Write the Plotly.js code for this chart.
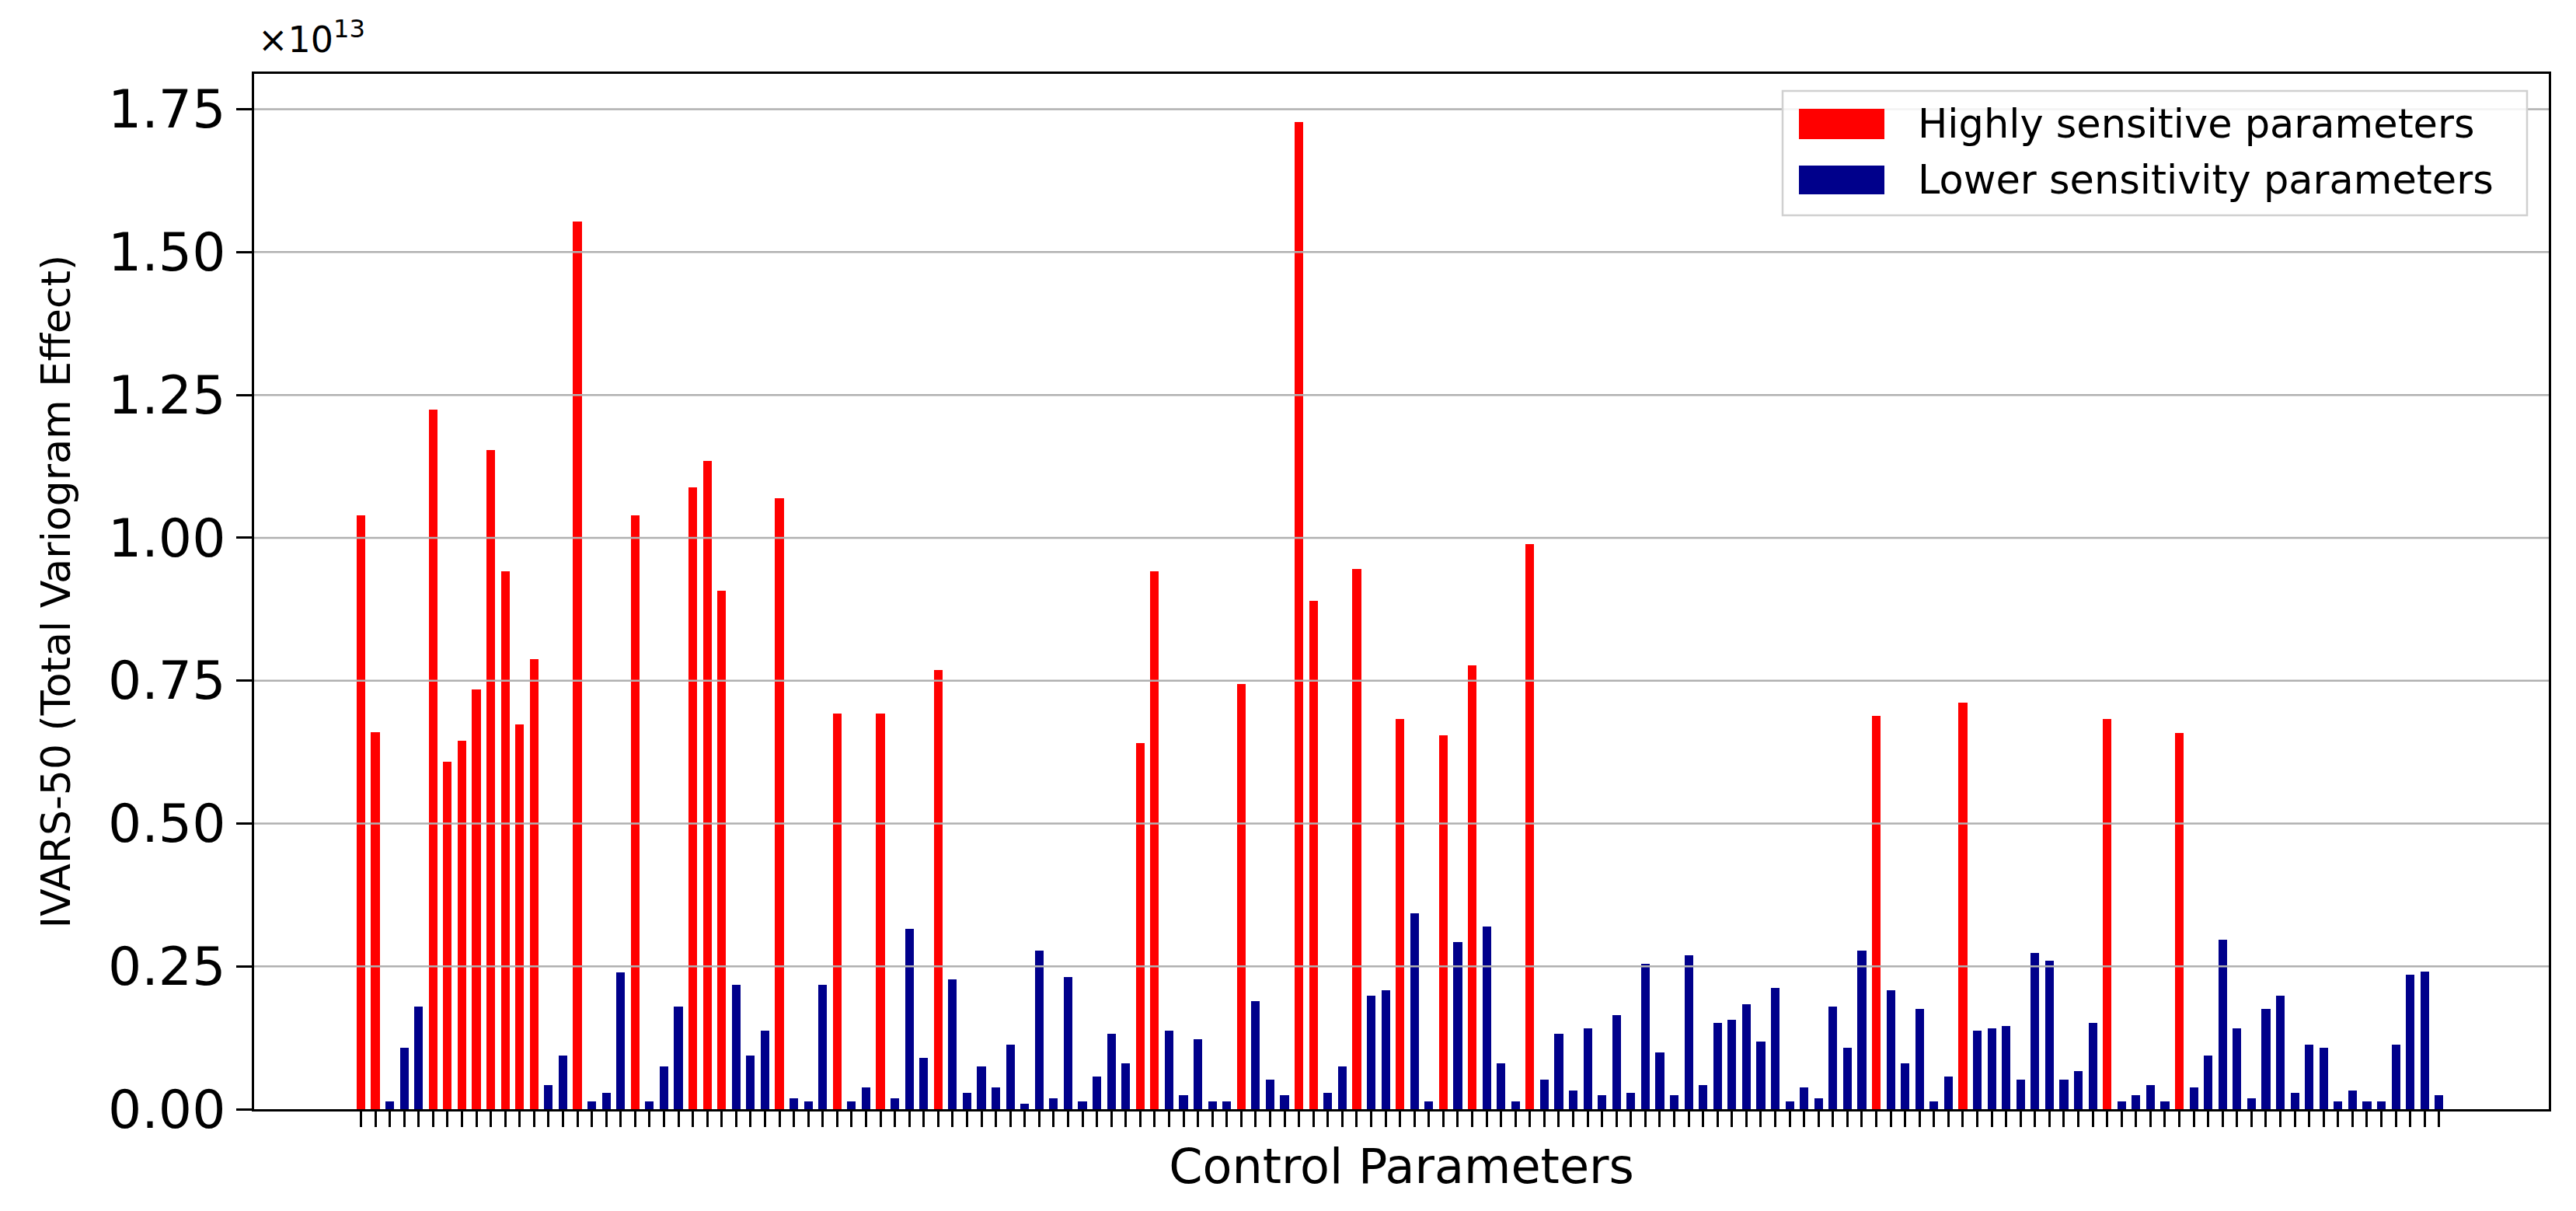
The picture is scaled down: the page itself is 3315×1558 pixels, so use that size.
<!DOCTYPE html>
<html>
<head>
<meta charset="utf-8">
<script src="https://cdn.plot.ly/plotly-3.0.1.min.js"></script>
<style>
  html, body { margin: 0; padding: 0; background: #fff; }
  #chart { width: 3315px; height: 1558px; }
</style>
</head>
<body>
<div id="chart"></div>
<script>
// IVARS-50 (total variogram effect) per control parameter, in units of 1e13
var ivars50 = [
  1.04, 0.66, 0.014, 0.108, 0.179, 1.225, 0.608, 0.645, 0.735, 1.154,
  0.941, 0.674, 0.787, 0.042, 0.094, 1.554, 0.014, 0.028, 0.24, 1.04,
  0.014, 0.075, 0.179, 1.088, 1.135, 0.908, 0.217, 0.094, 0.137, 1.069,
  0.019, 0.014, 0.217, 0.693, 0.014, 0.038, 0.693, 0.019, 0.315, 0.09,
  0.768, 0.227, 0.028, 0.075, 0.038, 0.113, 0.009, 0.278, 0.019, 0.231,
  0.014, 0.057, 0.132, 0.08, 0.641, 0.941, 0.137, 0.024, 0.123, 0.014,
  0.014, 0.744, 0.189, 0.052, 0.024, 1.728, 0.89, 0.028, 0.075, 0.946,
  0.198, 0.208, 0.683, 0.343, 0.014, 0.655, 0.293, 0.777, 0.32, 0.08,
  0.014, 0.989, 0.052, 0.132, 0.033, 0.142, 0.024, 0.165, 0.028, 0.255,
  0.099, 0.024, 0.269, 0.042, 0.151, 0.156, 0.184, 0.118, 0.212, 0.014,
  0.038, 0.019, 0.179, 0.108, 0.278, 0.688, 0.208, 0.08, 0.175, 0.014,
  0.057, 0.711, 0.137, 0.142, 0.146, 0.052, 0.274, 0.26, 0.052, 0.066,
  0.151, 0.683, 0.014, 0.024, 0.042, 0.014, 0.659, 0.038, 0.094, 0.297,
  0.142, 0.019, 0.175, 0.198, 0.028, 0.113, 0.108, 0.014, 0.033, 0.014,
  0.014, 0.113, 0.236, 0.241, 0.024
];

// positions of the highly sensitive parameters (0-based)
var highlyIdx = [0, 1, 5, 6, 7, 8, 9, 10, 11, 12, 15, 19, 23, 24, 25, 29, 33, 36, 40,
                 54, 55, 61, 65, 66, 69, 72, 75, 77, 81, 105, 111, 121, 126];

var yTicks = [0, 0.25, 0.5, 0.75, 1.0, 1.25, 1.5, 1.75];
var seriesNames = ['Highly sensitive parameters', 'Lower sensitivity parameters'];
var seriesColors = ['#ff0000', '#00008b'];

var params = ivars50.map(function(v, i) { return i; });

function pick(high) {
  var x = [], y = [];
  params.forEach(function(i) {
    if ((highlyIdx.indexOf(i) >= 0) === high) { x.push(i); y.push(ivars50[i]); }
  });
  return {x: x, y: y};
}

var hi = pick(true), lo = pick(false);

var data = [
  {type: 'bar', x: hi.x, y: hi.y, width: 0.6, name: seriesNames[0],
   marker: {color: seriesColors[0], line: {width: 0}}, showlegend: false},
  {type: 'bar', x: lo.x, y: lo.y, width: 0.6, name: seriesNames[1],
   marker: {color: seriesColors[1], line: {width: 0}}, showlegend: false}
];

// plot box in pixels
var L = 327, R = 35, T = 95, B = 131, W = 3315, H = 1558;
function px(X) { return (X - L) / (W - L - R); }
function py(Y) { return (H - B - Y) / (H - T - B); }

var font = 'DejaVu Sans, Liberation Sans, sans-serif';

// grid drawn over the bars, like the original
var shapes = yTicks.slice(1).map(function(t) {
  return {type: 'line', xref: 'paper', yref: 'y', x0: 0, x1: 1, y0: t, y1: t,
          layer: 'above', line: {color: '#b0b0b0', width: 2.5}};
});

// legend box
shapes.push({type: 'rect', xref: 'paper', yref: 'paper', layer: 'above',
  x0: px(2294), x1: px(3252), y0: py(277), y1: py(117),
  fillcolor: 'rgba(255,255,255,0.85)', line: {color: '#d0d0d0', width: 2.5}});
shapes.push({type: 'rect', xref: 'paper', yref: 'paper', layer: 'above',
  x0: px(2315), x1: px(2425), y0: py(179), y1: py(140),
  fillcolor: seriesColors[0], line: {width: 0}});
shapes.push({type: 'rect', xref: 'paper', yref: 'paper', layer: 'above',
  x0: px(2315), x1: px(2425), y0: py(250), y1: py(213),
  fillcolor: seriesColors[1], line: {width: 0}});

var annotations = [
  {xref: 'paper', yref: 'paper', x: px(2466), y: py(160), xanchor: 'left', yanchor: 'middle',
   text: seriesNames[0], showarrow: false, font: {family: font, size: 51, color: '#000'}},
  {xref: 'paper', yref: 'paper', x: px(2466), y: py(231), xanchor: 'left', yanchor: 'middle',
   text: seriesNames[1], showarrow: false, font: {family: font, size: 51, color: '#000'}},
  {xref: 'paper', yref: 'paper', x: px(330), y: py(80), xanchor: 'left', yanchor: 'bottom',
   text: '\u00d710<sup>13</sup>', showarrow: false, font: {family: font, size: 46, color: '#000'}}
];

var layout = {
  width: W, height: H,
  margin: {l: L, r: R, t: T, b: B},
  paper_bgcolor: '#fff', plot_bgcolor: '#fff',
  barmode: 'overlay',
  bargap: 0,
  font: {family: font, color: '#000'},
  xaxis: {
    range: [-7.4, 151.6],
    tickvals: params,
    showticklabels: false,
    ticks: 'outside', ticklen: 20, tickwidth: 3, tickcolor: '#000',
    showgrid: false, zeroline: false,
    showline: true, linecolor: '#000', linewidth: 3, mirror: true,
    title: {text: 'Control Parameters', font: {family: font, size: 62}, standoff: 30}
  },
  yaxis: {
    range: [0, 1.812],
    tickvals: yTicks,
    tickformat: '.2f',
    tickfont: {family: font, size: 68},
    ticks: 'outside', ticklen: 20, tickwidth: 3, tickcolor: '#000',
    showgrid: false, zeroline: false,
    showline: true, linecolor: '#000', linewidth: 3, mirror: true,
    title: {text: 'IVARS-50 (Total Variogram Effect)', font: {family: font, size: 52}, standoff: 32}
  },
  shapes: shapes,
  annotations: annotations
};

Plotly.newPlot('chart', data, layout, {displayModeBar: false, staticPlot: true});
</script>
</body>
</html>
